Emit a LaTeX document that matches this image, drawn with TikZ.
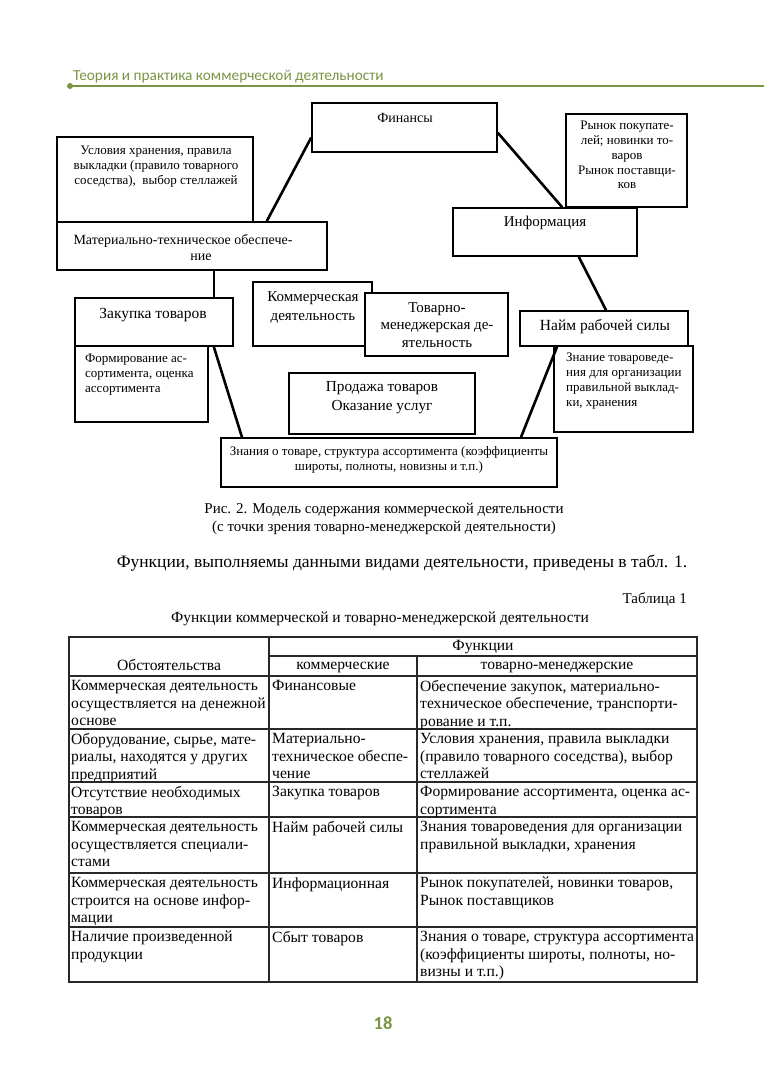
\documentclass[tikz,border=0pt]{standalone}
\usepackage{fontspec}
\setmainfont{Liberation Serif}
\newfontfamily\hdrfont{Carlito}
\usetikzlibrary{calc}
\definecolor{hgreen}{RGB}{122,150,68}
\definecolor{tgray}{RGB}{40,40,40}
\newcommand{\fs}[2]{\fontsize{#1}{#2}\selectfont}
\tikzset{
  box/.style={draw, line width=2.2pt, fill=white, inner sep=0pt, rectangle},
  conn/.style={line width=2.6pt, line cap=round},
  txt/.style={inner sep=0pt, align=center},
  ltxt/.style={inner sep=0pt, align=left},
  tline/.style={line width=1.1pt, draw=tgray},
  cell/.style={inner sep=0pt, align=left, anchor=north west, font=\fs{15.6}{17.6}},
}
\begin{document}
\begin{tikzpicture}[x=1pt,y=-1pt]
\useasboundingbox (0,0) rectangle (764,1080);
\fill[white] (0,0) rectangle (764,1080);

% header
\node[inner sep=0pt, anchor=base west, text=hgreen, font=\hdrfont\fs{15.3}{18}] (hdr) at (73,80) {Теория и практика коммерческой деятельности};
\draw[hgreen, line width=2pt] (70,86) -- (764,86);
\fill[hgreen] (70,86) circle (3);

% diagram boxes
\node[box, minimum width=185, minimum height=49] (fin) at (404.5,127.5) {};
\node[txt, font=\fs{14}{16}] (finT) at (405,118) {Финансы};

\node[box, minimum width=196, minimum height=85] (usl) at (155,179.5) {};
\node[txt, font=\fs{13}{14.8}, anchor=north] (uslT) at (156,146) {Условия хранения, правила\\выкладки (правило товарного\\соседства), \ выбор стеллажей};

\node[box, minimum width=270, minimum height=48] (mto) at (192,246) {};
\node[txt, font=\fs{14}{17}] (mtoT1) at (183,240.5) {Материально-техническое обеспече-};
\node[txt, font=\fs{14}{17}] (mtoT2) at (201,257.5) {ние};

\node[box, minimum width=121, minimum height=93] (ryn) at (626.5,160.5) {};
\node[txt, font=\fs{13}{14.8}, anchor=north] (rynT) at (627,121) {Рынок покупате-\\лей; новинки то-\\варов\\Рынок поставщи-\\ков};

\node[box, minimum width=184, minimum height=48] (inf) at (545,232) {};
\node[txt, font=\fs{15}{17}] (infT) at (545,223) {Информация};

\node[box, minimum width=158, minimum height=48] (zak) at (154,322) {};
\node[txt, font=\fs{15.5}{17}] (zakT) at (153,315) {Закупка товаров};

\node[box, minimum width=133, minimum height=76] (form) at (141.5,384) {};
\node[ltxt, font=\fs{13}{14.8}, anchor=north west] (formT) at (85,354) {Формирование ас-\\сортимента, оценка\\ассортимента};

\node[box, minimum width=119, minimum height=64] (kom) at (312.5,314) {};
\node[txt, font=\fs{15}{19}] (komT) at (313,307.5) {Коммерческая\\деятельность};

\node[box, minimum width=143, minimum height=63] (tov) at (436.5,324.5) {};
\node[txt, font=\fs{15}{17.5}] (tovT) at (437,325) {Товарно-\\менеджерская де-\\ятельность};

\node[box, minimum width=168, minimum height=35] (naim) at (604,328.5) {};
\node[txt, font=\fs{15.5}{17}] (naimT) at (605,327) {Найм рабочей силы};

\node[box, minimum width=139, minimum height=86] (znan) at (623.5,389) {};
\node[ltxt, font=\fs{13}{14.8}, anchor=north west] (znanT) at (566,353) {Знание товароведе-\\ния для организации\\правильной выклад-\\ки, хранения};

\node[box, minimum width=186, minimum height=61] (prod) at (382,403.5) {};
\node[txt, font=\fs{15.3}{19}] (prodT) at (382,397.5) {Продажа товаров\\Оказание услуг};

\node[box, minimum width=336, minimum height=49] (zn) at (389,462.5) {};
\node[txt, font=\fs{13}{15}] (znT) at (389,459.5) {Знания о товаре, структура ассортимента (коэффициенты\\широты, полноты, новизны и т.п.)};

% connectors
\draw[conn] ([yshift=15pt]fin.south west) -- ([xshift=211pt]mto.north west);
\draw[conn] ([yshift=20pt]fin.south east) -- ([xshift=110pt]inf.north west);
\draw[conn] ([xshift=127pt]inf.south west) -- ([xshift=87pt]naim.north west);
\draw[conn] ([xshift=158pt]mto.south west) -- ([xshift=140pt]zak.north west);
\draw[conn] ([xshift=140pt]zak.south west) -- ([xshift=22pt]zn.north west);
\draw[conn] ([xshift=38pt]naim.south west) -- ([xshift=-37pt]zn.north east);

% caption and text
\node[txt, font=\fs{15}{18}] (cap) at (384,519) {Рис. 2. Модель содержания коммерческой деятельности\\(с точки зрения товарно-менеджерской деятельности)};
\node[txt, font=\fs{17.5}{20}] (para) at (402,563) {Функции, выполняемы данными видами деятельности, приведены в табл. 1.};
\node[txt, font=\fs{15}{17}, anchor=east] (tabno) at (687,600) {Таблица 1};
\node[txt, font=\fs{15.5}{17}] (tabtitle) at (380,619) {Функции коммерческой и товарно-менеджерской деятельности};

% table lines
\draw[tline] (69,637) rectangle (697,982);
\draw[tline] (269,637) -- (269,982);
\draw[tline] (417,656) -- (417,982);
\draw[tline] (269,656) -- (697,656);
\foreach \yy in {676,729,782,817,873,927} \draw[tline] (69,\yy) -- (697,\yy);

% table header
\node[txt, font=\fs{15.6}{17}] (hF) at (483,647) {Функции};
\node[txt, font=\fs{15.6}{17}] (hO) at (169,665) {Обстоятельства};
\node[txt, font=\fs{15.6}{17}] (hK) at (343,667.5) {коммерческие};
\node[txt, font=\fs{15.6}{17}] (hT) at (557,667.5) {товарно-менеджерские};

% table rows
\node[cell] (r1a) at (71,680) {Коммерческая деятельность\\осуществляется на денежной\\основе};
\node[cell] (r1b) at (272,680) {Финансовые};
\node[cell] (r1c) at (420,680) {Обеспечение закупок, материально-\\техническое обеспечение, транспорти-\\рование и т.п.};

\node[cell] (r2a) at (71,733) {Оборудование, сырье, мате-\\риалы, находятся у других\\предприятий};
\node[cell] (r2b) at (272,733) {Материально-\\техническое обеспе-\\чение};
\node[cell] (r2c) at (420,733) {Условия хранения, правила выкладки\\(правило товарного соседства), выбор\\стеллажей};

\node[cell] (r3a) at (71,786) {Отсутствие необходимых\\товаров};
\node[cell] (r3b) at (272,786) {Закупка товаров};
\node[cell] (r3c) at (420,786) {Формирование ассортимента, оценка ас-\\сортимента};

\node[cell] (r4a) at (71,821) {Коммерческая деятельность\\осуществляется специали-\\стами};
\node[cell] (r4b) at (272,821) {Найм рабочей силы};
\node[cell] (r4c) at (420,821) {Знания товароведения для организации\\правильной выкладки, хранения};

\node[cell] (r5a) at (71,877) {Коммерческая деятельность\\строится на основе инфор-\\мации};
\node[cell] (r5b) at (272,877) {Информационная};
\node[cell] (r5c) at (420,877) {Рынок покупателей, новинки товаров,\\Рынок поставщиков};

\node[cell] (r6a) at (71,931) {Наличие произведенной\\продукции};
\node[cell] (r6b) at (272,931) {Сбыт товаров};
\node[cell] (r6c) at (420,931) {Знания о товаре, структура ассортимента\\(коэффициенты широты, полноты, но-\\визны и т.п.)};

% page number
\node[inner sep=0pt, text=hgreen, font=\hdrfont\bfseries\fs{18.5}{20}] (pg) at (383,1023) {18};
\end{tikzpicture}
\end{document}
